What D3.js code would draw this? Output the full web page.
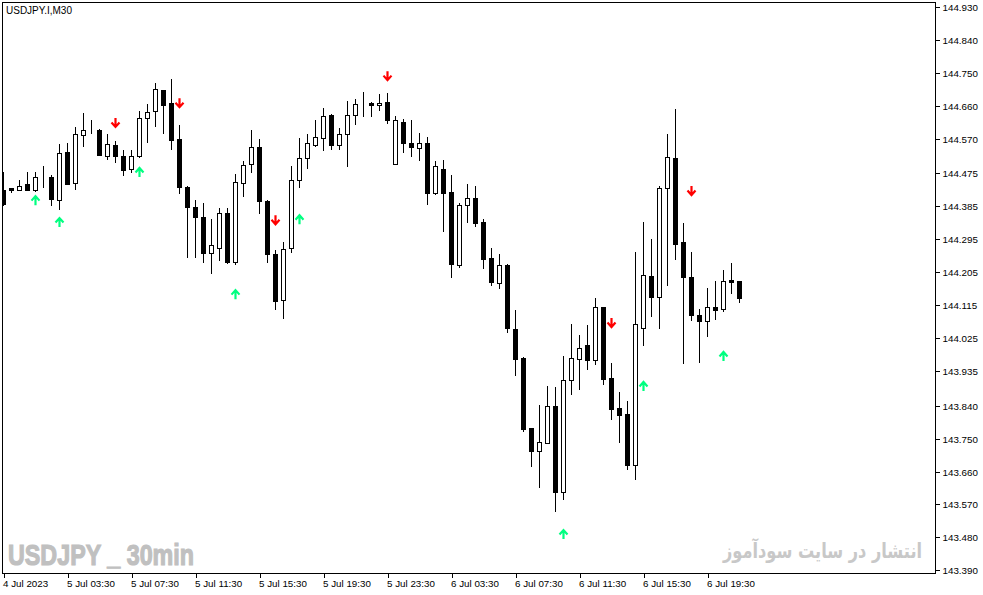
<!DOCTYPE html>
<html><head><meta charset="utf-8">
<script src="https://cdn.jsdelivr.net/npm/d3@7"></script>
<style>body{margin:0;background:#fff;overflow:hidden}svg{display:block}</style>
</head><body><svg id="c" width="983" height="595"></svg>
<script>
// ---- data (USDJPY.I, M30) ----
const open  = [144.429,144.435,144.431,144.445,144.429,144.464,144.464,144.401,144.533,144.448,
  144.579,144.595,144.594,144.524,144.552,144.524,144.488,144.523,144.626,144.645,
  144.703,144.667,144.569,144.438,144.384,144.357,144.258,144.271,144.366,144.232,
  144.448,144.500,144.546,144.399,144.255,144.129,144.271,144.456,144.516,144.554,
  144.571,144.635,144.554,144.582,144.634,144.665,144.667,144.661,144.670,144.501,
  144.616,144.558,144.544,144.558,144.422,144.487,144.424,144.224,144.388,144.408,
  144.342,144.244,144.175,144.226,144.051,143.970,143.778,143.716,143.739,143.839,
  143.604,143.909,143.969,144.005,143.966,144.109,143.915,143.833,143.817,143.678,
  144.053,144.194,144.138,144.434,144.517,144.287,144.192,144.088,144.072,144.109,
  144.105,144.183,144.181];
const high  = [144.479,144.435,144.457,144.479,144.479,144.495,144.470,144.555,144.557,144.601,
  144.639,144.621,144.596,144.583,144.563,144.539,144.539,144.646,144.665,144.721,
  144.704,144.733,144.607,144.440,144.402,144.393,144.350,144.380,144.380,144.473,
  144.509,144.594,144.569,144.402,144.266,144.287,144.495,144.572,144.583,144.621,
  144.654,144.637,144.598,144.672,144.678,144.697,144.671,144.693,144.695,144.632,
  144.624,144.621,144.585,144.574,144.509,144.512,144.470,144.393,144.446,144.440,
  144.350,144.271,144.254,144.228,144.101,143.973,143.778,143.841,143.893,143.891,
  143.977,144.063,144.033,144.060,144.134,144.109,143.956,143.877,143.852,144.260,
  144.342,144.295,144.440,144.583,144.651,144.339,144.260,144.104,144.162,144.181,
  144.211,144.229,144.181];
const low   = [144.388,144.425,144.431,144.429,144.427,144.438,144.390,144.377,144.446,144.433,
  144.551,144.585,144.525,144.515,144.507,144.471,144.478,144.521,144.562,144.605,
  144.586,144.542,144.422,144.246,144.247,144.232,144.204,144.239,144.230,144.228,
  144.414,144.480,144.366,144.232,144.103,144.079,144.259,144.437,144.491,144.551,
  144.539,144.542,144.542,144.496,144.609,144.633,144.633,144.649,144.614,144.501,
  144.534,144.523,144.512,144.392,144.419,144.318,144.192,144.219,144.343,144.332,
  144.216,144.171,144.161,144.042,143.925,143.771,143.675,143.618,143.737,143.552,
  143.586,143.872,143.886,143.941,143.953,143.900,143.804,143.741,143.667,143.640,
  144.006,144.086,144.053,144.170,144.241,143.956,144.075,143.960,144.031,144.077,
  144.099,144.148,144.124];
const close = [144.391,144.429,144.442,144.429,144.464,144.465,144.406,144.530,144.447,144.582,
  144.595,144.593,144.526,144.555,144.523,144.485,144.524,144.626,144.642,144.705,
  144.661,144.567,144.437,144.382,144.355,144.258,144.279,144.366,144.232,144.451,
  144.497,144.546,144.400,144.254,144.125,144.268,144.457,144.516,144.558,144.574,
  144.632,144.553,144.582,144.634,144.665,144.666,144.661,144.667,144.622,144.621,
  144.559,144.546,144.558,144.422,144.495,144.422,144.228,144.388,144.408,144.340,
  144.242,144.178,144.225,144.052,143.968,143.776,143.716,143.742,143.839,143.604,
  143.909,143.970,143.999,143.964,144.109,143.913,143.831,143.815,143.678,144.062,
  144.197,144.138,144.434,144.519,144.283,144.192,144.088,144.072,144.109,144.102,
  144.181,144.178,144.135];

const xLabels    = ["4 Jul 2023","5 Jul 03:30","5 Jul 07:30","5 Jul 11:30","5 Jul 15:30","5 Jul 19:30",
                    "5 Jul 23:30","6 Jul 03:30","6 Jul 07:30","6 Jul 11:30","6 Jul 15:30","6 Jul 19:30"];
const xLabelBars = [0,8,16,24,32,40,48,56,64,72,80,88];
const yTickLabels = ["144.930","144.840","144.750","144.660","144.570","144.475","144.385","144.295","144.205",
                     "144.115","144.025","143.935","143.840","143.750","143.660","143.570","143.480","143.390"];

const upBars     = [4,7,17,29,37,70,80,90];
const upPrices   = [144.402,144.342,144.479,144.145,144.350,143.489,143.894,143.976];
const downBars   = [14,22,34,48,76,86];
const downPrices = [144.613,144.667,144.347,144.741,144.066,144.427];

const title = "USDJPY.I,M30";
const watermark1 = "USDJPY _ 30min";
const watermark2 = "انتشار در سایت سودآموز";

// ---- drawing ----
const svg = d3.select("#c");
const L = 2.5, T = 2.5, R = 935.5, B = 573.5;
const x = d3.scaleLinear().domain([0, 1]).range([3.5, 11.5]);
const y = d3.scaleLinear().domain([143.390, 144.930]).range([570.3, 7]);
const py = v => Math.round(y(v)) + 0.5;

svg.append("rect").attr("width", 983).attr("height", 595).attr("fill", "#fff");

svg.append("defs").append("clipPath").attr("id", "clip")
  .append("rect").attr("x", 3).attr("y", 3).attr("width", R - 3).attr("height", B - 3);

// watermarks
svg.append("text").attr("x", 8).attr("y", 565)
  .attr("font-family", "Liberation Sans, Arial, sans-serif").attr("font-weight", "bold")
  .attr("font-size", 30).attr("fill", "#c0c0c0")
  .attr("stroke", "#c0c0c0").attr("stroke-width", 1.2)
  .attr("textLength", 186).attr("lengthAdjust", "spacingAndGlyphs")
  .text(watermark1);
svg.append("text").attr("transform", "translate(922,558) scale(0.77,1)")
  .attr("x", 0).attr("y", 0)
  .attr("font-family", "DejaVu Sans, Noto Sans, sans-serif").attr("font-weight", "bold")
  .attr("font-size", 21).attr("fill", "#c8c8c8").attr("text-anchor", "end")
  .text(watermark2);

const g = svg.append("g").attr("clip-path", "url(#clip)");
const bars = d3.range(open.length);

// wicks
g.selectAll("line.wick").data(bars).join("line").attr("class", "wick")
  .attr("x1", i => x(i)).attr("x2", i => x(i))
  .attr("y1", i => py(high[i]) - 0.5).attr("y2", i => py(low[i]) + 0.5)
  .attr("stroke", "#000").attr("stroke-width", 1).attr("shape-rendering", "crispEdges");

// bodies
g.selectAll("rect.body").data(bars).join("rect").attr("class", "body")
  .attr("x", i => x(i) - 2)
  .attr("width", 4)
  .attr("y", i => py(Math.max(open[i], close[i])))
  .attr("height", i => Math.max(0, py(Math.min(open[i], close[i])) - py(Math.max(open[i], close[i]))))
  .attr("fill", i => close[i] > open[i] ? "#fff" : "#000")
  .attr("stroke", "#000").attr("stroke-width", 1).attr("shape-rendering", "crispEdges");

// arrows
function arrowPath(cx, cy, dir) { // dir 1 = down, -1 = up
  const s = dir;
  return `M${cx},${cy - 5 * s}L${cx},${cy + 4 * s}M${cx - 4},${cy - 0.5 * s}L${cx},${cy + 4 * s}L${cx + 4},${cy - 0.5 * s}`;
}
g.selectAll("path.up").data(upBars).join("path").attr("class", "up")
  .attr("d", (b, k) => arrowPath(x(b), y(upPrices[k]), -1))
  .attr("fill", "none").attr("stroke", "#00ff80").attr("stroke-width", 2.2);
g.selectAll("path.down").data(downBars).join("path").attr("class", "down")
  .attr("d", (b, k) => arrowPath(x(b), y(downPrices[k]), 1))
  .attr("fill", "none").attr("stroke", "#ff0000").attr("stroke-width", 2.2);

// frame
svg.append("rect").attr("x", L).attr("y", T).attr("width", R - L).attr("height", B - T)
  .attr("fill", "none").attr("stroke", "#000").attr("stroke-width", 1);

// title
svg.append("text").attr("x", 6).attr("y", 14)
  .attr("font-family", "Liberation Sans, Arial, sans-serif").attr("font-size", 10)
  .attr("fill", "#000").text(title);

// y axis
const yAxis = d3.axisRight(y).tickValues(yTickLabels.map(Number))
  .tickFormat((d, k) => yTickLabels[k]).tickSize(4).tickPadding(3);
const ya = svg.append("g").attr("transform", `translate(${R},0)`).call(yAxis);
ya.select(".domain").remove();
ya.selectAll(".tick").attr("transform", d => `translate(0,${py(d)})`);
ya.selectAll("text").attr("font-family", "Liberation Sans, Arial, sans-serif")
  .attr("font-size", 9.8).attr("fill", "#000");
ya.selectAll("line").attr("stroke", "#000").attr("shape-rendering", "crispEdges");

// x axis
const xAxis = d3.axisBottom(x).tickValues(xLabelBars)
  .tickFormat((d, k) => xLabels[k]).tickSize(4);
const xa = svg.append("g").attr("transform", `translate(0,${B})`).call(xAxis);
xa.select(".domain").remove();
xa.selectAll("line").attr("stroke", "#000").attr("shape-rendering", "crispEdges");
xa.selectAll("text").attr("text-anchor", "start").attr("x", -1).attr("y", 10).attr("dy", "0.35em")
  .attr("font-family", "Liberation Sans, Arial, sans-serif").attr("font-size", 9.8).attr("fill", "#000");
</script>
</body></html>
